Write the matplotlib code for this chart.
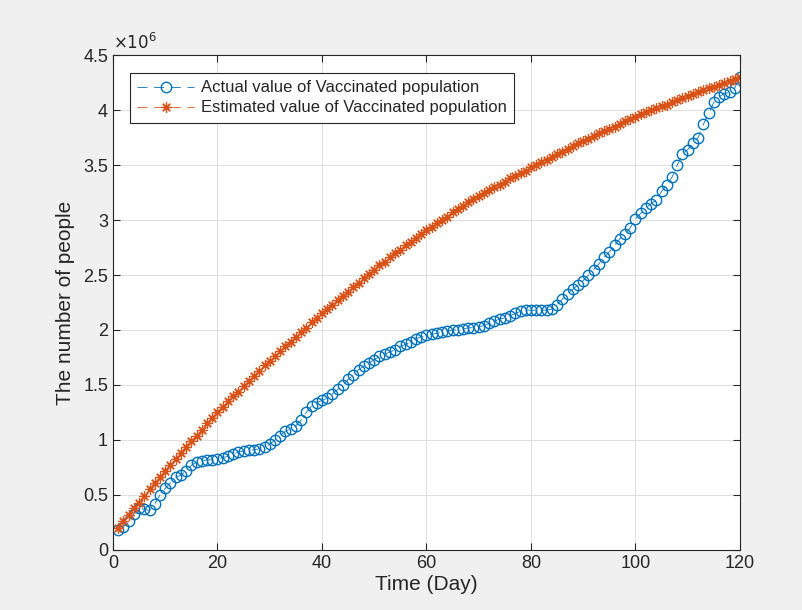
import matplotlib
matplotlib.use('Agg')
import matplotlib.pyplot as plt
import numpy as np
from matplotlib.ticker import FuncFormatter

plt.rcParams['font.family'] = ['Liberation Sans', 'DejaVu Sans']

days = np.arange(1, 121)

# actual vaccinated population (millions)
actual = [
    0.18, 0.21, 0.26, 0.33, 0.38, 0.37, 0.36, 0.42, 0.50, 0.56,
    0.61, 0.66, 0.68, 0.72, 0.77, 0.80, 0.81, 0.82, 0.82, 0.83,
    0.84, 0.85, 0.87, 0.89, 0.90, 0.91, 0.91, 0.92, 0.94, 0.96,
    1.00, 1.04, 1.08, 1.10, 1.13, 1.18, 1.25, 1.31, 1.34, 1.36,
    1.38, 1.42, 1.46, 1.50, 1.55, 1.59, 1.64, 1.67, 1.70, 1.73,
    1.76, 1.78, 1.80, 1.82, 1.85, 1.87, 1.89, 1.92, 1.94, 1.95,
    1.96, 1.97, 1.98, 1.99, 2.00, 2.00, 2.01, 2.02, 2.02, 2.03,
    2.04, 2.06, 2.08, 2.10, 2.11, 2.13, 2.15, 2.17, 2.18, 2.18,
    2.18, 2.18, 2.18, 2.19, 2.23, 2.28, 2.33, 2.37, 2.41, 2.45,
    2.50, 2.55, 2.60, 2.66, 2.71, 2.77, 2.83, 2.87, 2.93, 3.01,
    3.06, 3.11, 3.15, 3.18, 3.26, 3.32, 3.39, 3.50, 3.60, 3.64,
    3.70, 3.75, 3.87, 3.97, 4.07, 4.12, 4.15, 4.16, 4.20, 4.30,
]

# estimated vaccinated population (millions)
estimated = [
    0.20, 0.26, 0.32, 0.38, 0.43, 0.49, 0.55, 0.61, 0.66, 0.72,
    0.77, 0.83, 0.88, 0.94, 0.99, 1.04, 1.09, 1.15, 1.20, 1.25,
    1.30, 1.35, 1.40, 1.44, 1.49, 1.54, 1.58, 1.63, 1.68, 1.72,
    1.76, 1.81, 1.85, 1.89, 1.94, 1.98, 2.02, 2.07, 2.11, 2.15,
    2.19, 2.23, 2.27, 2.31, 2.35, 2.39, 2.43, 2.47, 2.51, 2.55,
    2.59, 2.62, 2.66, 2.70, 2.73, 2.77, 2.80, 2.84, 2.87, 2.91,
    2.94, 2.97, 3.00, 3.03, 3.07, 3.10, 3.13, 3.16, 3.19, 3.22,
    3.25, 3.27, 3.30, 3.32, 3.35, 3.38, 3.40, 3.43, 3.45, 3.48,
    3.50, 3.53, 3.55, 3.57, 3.60, 3.62, 3.65, 3.67, 3.70, 3.72,
    3.74, 3.76, 3.79, 3.81, 3.83, 3.85, 3.87, 3.90, 3.92, 3.94,
    3.96, 3.98, 4.00, 4.02, 4.04, 4.05, 4.07, 4.09, 4.11, 4.13,
    4.15, 4.16, 4.18, 4.20, 4.21, 4.23, 4.25, 4.26, 4.28, 4.30,
]

actual = np.array(actual) * 1e6
estimated = np.array(estimated) * 1e6

txt = '#262626'
fig = plt.figure(figsize=(8.03, 6.10), dpi=100, facecolor='#f0f0f0')
ax = fig.add_axes([0.1407, 0.0984, 0.7808, 0.8114])

ax.plot(days, actual, linestyle=(0, (12, 8)), marker='o', color='#0072BD',
        mfc='none', ms=7.5, lw=0.6, mew=1.0,
        label='Actual value of Vaccinated population')
ax.plot(days, estimated, linestyle=(0, (12, 8)), marker=(8, 2, 0),
        color='#D95319', ms=7.5, lw=0.6, mew=0.9,
        label='Estimated value of Vaccinated population')

ax.set_xlim(0, 120)
ax.set_ylim(0, 4.5e6)
ax.set_xticks(np.arange(0, 121, 20))
ax.set_yticks(np.arange(0, 4.51e6, 0.5e6))
ax.yaxis.set_major_formatter(FuncFormatter(lambda v, p: f'{v / 1e6:g}'))
ax.text(0.0, 1.006, r'$\times10^{6}$', transform=ax.transAxes, fontsize=12,
        color=txt, ha='left', va='bottom')

ax.grid(True, color='#dedede', lw=0.7)
ax.tick_params(direction='in', top=True, right=True, labelsize=13,
               colors=txt, length=5)
for s in ax.spines.values():
    s.set_color(txt)
    s.set_linewidth(0.8)

ax.set_xlabel('Time (Day)', fontsize=15, color=txt, labelpad=2)
ax.set_ylabel('The number of people', fontsize=15, color=txt, labelpad=6)

leg = ax.legend(loc='upper left', bbox_to_anchor=(0.027, 0.964), fontsize=12,
                fancybox=False, edgecolor=txt, framealpha=1,
                handlelength=3.4, borderpad=0.45, labelspacing=0.3,
                handletextpad=0.4, borderaxespad=0)
leg.get_frame().set_linewidth(0.8)
for t in leg.get_texts():
    t.set_color(txt)

fig.savefig('out.png', dpi=100, facecolor=fig.get_facecolor())
